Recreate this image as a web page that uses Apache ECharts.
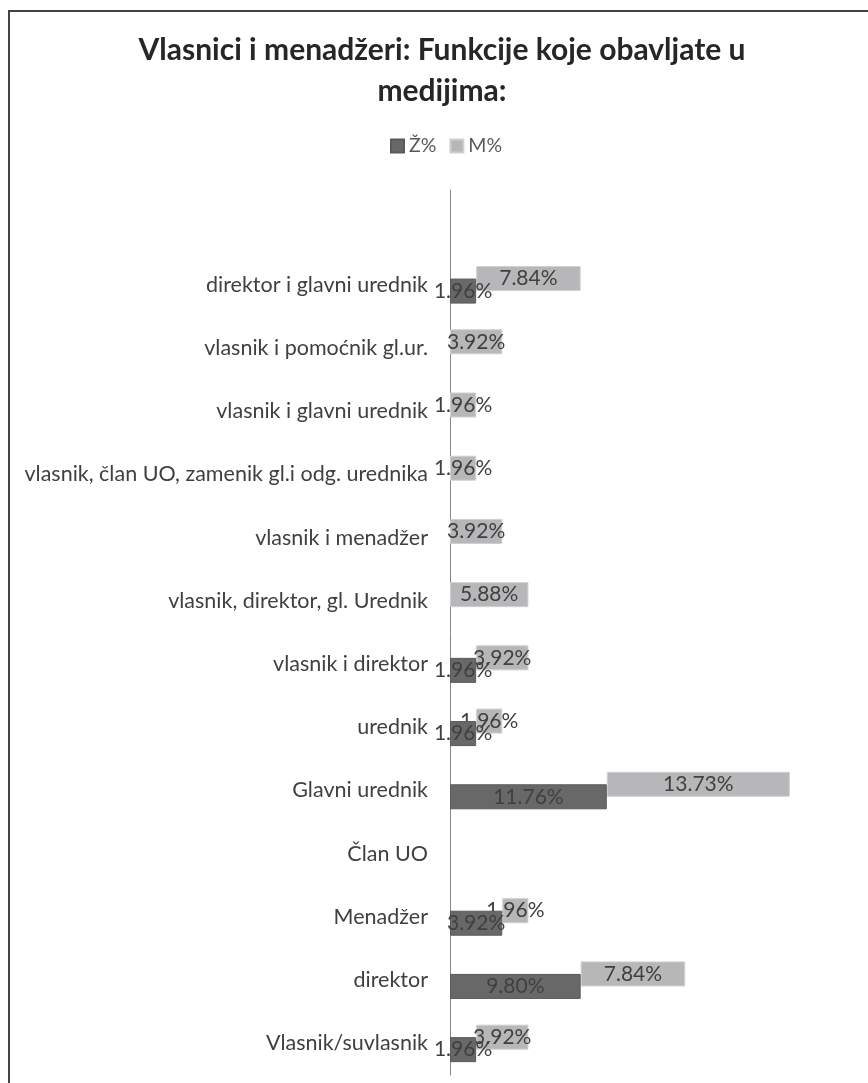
<!DOCTYPE html>
<html><head><meta charset="utf-8">
<script src="https://cdn.jsdelivr.net/npm/echarts@6/dist/echarts.min.js"></script>
<style>html,body{margin:0;padding:0;background:#fff}#c{width:868px;height:1083px}</style>
</head><body><div id="c"></div>
<script>
const categories = ['Vlasnik/suvlasnik','direktor','Menadžer','Član UO','Glavni urednik','urednik','vlasnik i direktor','vlasnik, direktor, gl. Urednik','vlasnik i menadžer','vlasnik, član UO, zamenik gl.i odg. urednika','vlasnik i glavni urednik','vlasnik i pomoćnik gl.ur.','direktor i glavni urednik',''];
const zene = [1.96, 9.80, 3.92, null, 11.76, 1.96, 1.96, null, null, null, null, null, 1.96, null];
const muskarci = [3.92, 7.84, 1.96, null, 13.73, 1.96, 3.92, 5.88, 3.92, 1.96, 1.96, 3.92, 7.84, null];
const seriesNames = ['Ž%', 'M%'];
const titleText = 'Vlasnici i menadžeri: Funkcije koje obavljate u\nmedijima:';

const FONT = 'Lato';
const labelStyle = {
  show: true, position: 'inside', color: '#404040', fontSize: 21, fontFamily: FONT,
  formatter: p => (p.value == null ? '' : Number(p.value).toFixed(2) + '%')
};
const chart = echarts.init(document.getElementById('c'), null, {renderer: 'canvas'});
chart.setOption({
  backgroundColor: '#fff',
  animation: false,
  title: {
    text: titleText, left: 442, top: 30, padding: 0, textAlign: 'center',
    textStyle: {fontFamily: FONT, fontWeight: 'bold', fontSize: 30, lineHeight: 41, color: '#262626'}
  },
  legend: {
    data: seriesNames, top: 136, left: 390, padding: 0,
    itemWidth: 13, itemHeight: 13, itemGap: 13, icon: 'rect',
    textStyle: {fontFamily: FONT, fontSize: 19.5, color: '#595959'}
  },
  graphic: [{
    type: 'rect', shape: {x: 9, y: 11, width: 900, height: 1100},
    style: {fill: 'none', stroke: '#444', lineWidth: 2}, silent: true
  }],
  grid: {left: 450, right: 18, top: 190, bottom: 8},
  xAxis: {type: 'value', min: 0, max: 30, show: false},
  yAxis: {
    type: 'category', data: categories,
    axisLine: {show: true, lineStyle: {color: '#868686', width: 1}},
    axisTick: {show: false},
    axisLabel: {color: '#404040', fontSize: 21.5, fontFamily: FONT, margin: 22}
  },
  series: [
    {name: '_base', type: 'bar', stack: 'm', data: zene.map(v => v || 0), barWidth: 25, barGap: '-50%',
     itemStyle: {color: 'rgba(0,0,0,0)'}, label: {show: false}, silent: true},
    {name: seriesNames[1], type: 'bar', stack: 'm', data: muskarci, barWidth: 25, barGap: '-50%',
     itemStyle: {color: '#b7b7b9', borderColor: '#cfcfd1', borderWidth: 1}, label: labelStyle, z: 2},
    {name: seriesNames[0], type: 'bar', stack: 'z', data: zene, barWidth: 25, barGap: '-50%',
     itemStyle: {color: '#686868', borderColor: '#5a5a5a', borderWidth: 1}, label: labelStyle, z: 3}
  ]
});
</script>
</body></html>
